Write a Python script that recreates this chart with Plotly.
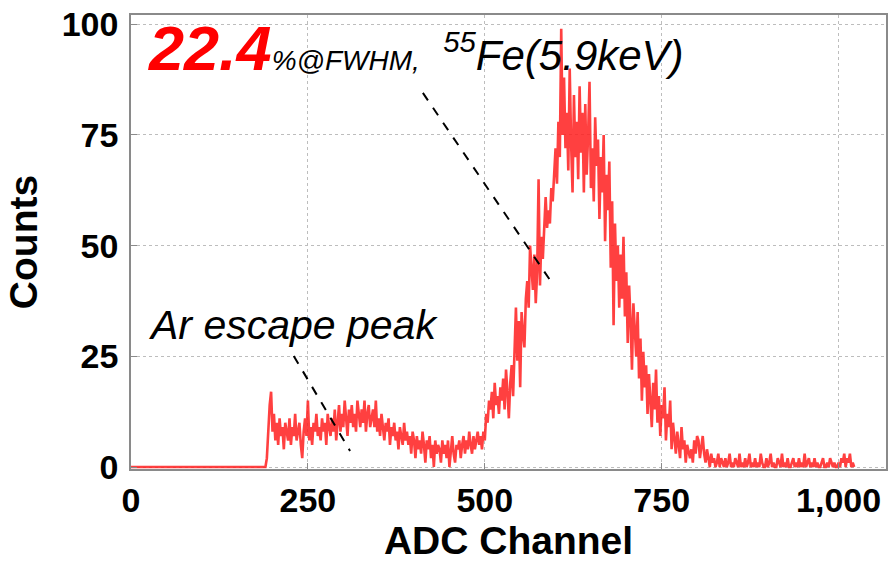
import plotly.graph_objects as go

# ---- data ----
baseline_channels = [0, 190]
baseline_counts = [0, 0]

adc_channels = list(range(192, 1024, 2))

counts_192_240 = [2, 9, 14, 17, 8, 12, 6, 10, 5, 11, 7, 9, 4, 10, 8, 6, 11, 5, 9, 7, 12, 6, 8, 10, 5]
counts_242_290 = [2, 8, 11, 7, 15, 6, 9, 5, 10, 8, 12, 7, 9, 6, 11, 8, 10, 5, 12, 9, 7, 11, 8, 13, 6]
counts_292_340 = [10, 14, 8, 12, 9, 15, 11, 7, 13, 10, 14, 9, 12, 8, 15, 11, 9, 13, 10, 15, 8, 12, 14, 9, 11]
counts_342_390 = [13, 9, 15, 8, 11, 7, 12, 9, 6, 10, 8, 11, 5, 9, 7, 10, 6, 8, 4, 9, 7, 5, 10, 6, 8]
counts_392_440 = [5, 7, 3, 8, 6, 2, 7, 4, 6, 3, 8, 5, 1, 6, 4, 7, 2, 5, 0, 6, 3, 5, 4, 1, 6]
counts_442_490 = [3, 5, 2, 6, 0, 4, 7, 3, 1, 5, 4, 6, 2, 5, 7, 3, 6, 4, 8, 5, 3, 7, 4, 6, 8]
counts_492_540 = [5, 7, 4, 8, 6, 12, 10, 15, 13, 17, 11, 19, 14, 16, 12, 18, 15, 20, 13, 22, 17, 11, 19, 23, 16]
counts_542_590 = [28, 36, 24, 33, 18, 35, 30, 27, 38, 42, 36, 50, 45, 40, 48, 37, 44, 65, 41, 52, 47, 56, 61, 54, 58]
counts_592_640 = [55, 63, 60, 66, 72, 64, 78, 70, 99, 75, 88, 72, 80, 67, 90, 73, 62, 84, 70, 78, 65, 86, 71, 80, 62]
counts_642_690 = [82, 66, 75, 87, 63, 72, 60, 79, 68, 74, 56, 70, 62, 75, 51, 66, 58, 69, 45, 60, 32, 55, 42, 50, 36]
counts_692_740 = [48, 38, 52, 34, 44, 28, 41, 33, 22, 37, 29, 25, 35, 20, 29, 15, 26, 18, 23, 12, 21, 16, 9, 19, 13]
counts_742_790 = [22, 10, 16, 7, 14, 11, 18, 6, 12, 9, 15, 4, 10, 7, 3, 8, 5, 2, 9, 4, 6, 1, 5, 3, 2]
counts_792_840 = [4, 1, 6, 3, 7, 6, 2, 5, 7, 3, 1, 4, 2, 0, 3, 1, 2, 0, 1, 3, 0, 2, 1, 0, 2]
counts_842_890 = [0, 1, 3, 0, 1, 0, 2, 1, 0, 3, 0, 1, 0, 2, 0, 1, 3, 0, 1, 0, 2, 0, 1, 0, 3]
counts_892_940 = [1, 0, 0, 2, 0, 1, 3, 0, 1, 0, 0, 2, 1, 0, 3, 0, 1, 0, 2, 0, 0, 1, 2, 0, 1]
counts_942_990 = [0, 2, 0, 1, 0, 3, 0, 1, 2, 0, 1, 0, 2, 0, 1, 0, 0, 1, 2, 0, 0, 1, 0, 2, 1]
counts_992_1022 = [0, 1, 0, 0, 1, 0, 2, 1, 3, 0, 2, 1, 3, 0, 1, 0]

counts = (counts_192_240 + counts_242_290 + counts_292_340 + counts_342_390 +
          counts_392_440 + counts_442_490 + counts_492_540 + counts_542_590 +
          counts_592_640 + counts_642_690 + counts_692_740 + counts_742_790 +
          counts_792_840 + counts_842_890 + counts_892_940 + counts_942_990 +
          counts_992_1022)

x_all = baseline_channels + adc_channels
y_all = baseline_counts + counts

x_ticks = [0, 250, 500, 750, 1000]
y_ticks = [0, 25, 50, 75, 100]

# leader lines (channel, counts)
leader_fe = [(412.5, 84.5), (597, 41.1)]
leader_ar = [(230, 25.1), (309.6, 3.6)]

FONT = "Liberation Sans, Arial, sans-serif"

fig = go.Figure()
fig.add_trace(go.Scatter(
    x=x_all, y=y_all, mode="lines",
    line=dict(color="rgba(255,30,30,0.85)", width=2.6),
    hoverinfo="x+y", showlegend=False,
))

axis_common = dict(
    showline=True, linecolor="#8a8a8a", linewidth=1.5, mirror=True,
    showgrid=True, gridcolor="#bdbdbd", griddash="dot", gridwidth=1,
    ticks="inside", ticklen=6, tickcolor="#8a8a8a", tickwidth=1,
    zeroline=False,
    tickfont=dict(family=FONT, size=34, color="black", weight="bold"),
)

fig.update_layout(
    width=890, height=562,
    margin=dict(l=131, r=2, t=15, b=93),
    paper_bgcolor="white", plot_bgcolor="white",
    xaxis=dict(range=[0, 1067], tickvals=x_ticks, tickformat=",",
               title=dict(text="ADC Channel", standoff=10,
                          font=dict(family=FONT, size=39, color="black", weight="bold")),
               **axis_common),
    yaxis=dict(range=[-0.45, 102.1], tickvals=y_ticks, ticklabelstandoff=4,
               title=dict(text="Counts", standoff=12,
                          font=dict(family=FONT, size=39, color="black", weight="bold")),
               **axis_common),
)

for (x0, y0), (x1, y1) in [leader_fe, leader_ar]:
    fig.add_shape(type="line", xref="x", yref="y", x0=x0, y0=y0, x1=x1, y1=y1,
                  line=dict(color="black", width=2, dash="dash"))

fig.add_annotation(
    xref="paper", yref="paper", x=0.02, y=0.846, xanchor="left", yanchor="bottom",
    showarrow=False, align="left",
    text=('<span style="font-size:63px;color:#ff0000;font-weight:bold;font-style:italic">22.4</span>'
          '<span style="font-size:28px;font-style:italic">%@FWHM,</span>'
          '<span style="font-size:42px;font-style:italic">&nbsp;&nbsp;<sup>55</sup>Fe(5.9keV)</span>'),
    font=dict(family=FONT, size=42, color="black"),
)

fig.add_annotation(
    xref="paper", yref="paper", x=0.02, y=0.317, xanchor="left", yanchor="middle",
    showarrow=False, text="<i>Ar escape peak</i>",
    font=dict(family=FONT, size=41, color="black"),
)

fig.write_html("out.html")
